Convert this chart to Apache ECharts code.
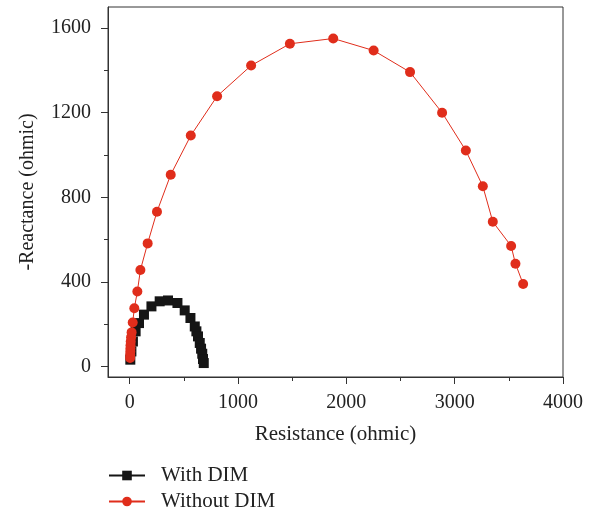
<!DOCTYPE html>
<html><head><meta charset="utf-8">
<script src="https://cdn.jsdelivr.net/npm/echarts@6/dist/echarts.min.js"></script>
<style>html,body{margin:0;padding:0;background:#fff}#c{width:593px;height:513px}</style>
</head><body><div id="c"></div>
<script>
const withDimX = [6,16,30,55,86,132,201,277,354,441,508,561,601,616,631,647,659,670,677,684];
const withDimY = [32,71,118,166,205,245,284,308,312,300,265,229,189,166,142,111,84,60,35,16];
const withoutDimX = [4,5,6,7,8,10,13,18,28,43,71,99,166,252,379,564,807,1121,1479,1879,2252,2588,2884,3103,3260,3352,3521,3561,3632];
const withoutDimY = [40,55,70,85,100,118,138,161,208,275,354,456,582,732,907,1092,1278,1423,1526,1551,1494,1392,1200,1021,852,684,570,486,390];
const xMajor = [0,1000,2000,3000,4000];
const xMinor = [500,1500,2500,3500];
const yMajor = [0,400,800,1200,1600];
const yMinor = [200,600,1000,1400];

const font = 'Liberation Serif';
const axisCol = '#333';
const txtCol = '#222';
const chart = echarts.init(document.getElementById('c'));
const pairs = (xs, ys) => xs.map((v,i)=>[v, ys[i]]);
const fmt = v => String(v);
const baseX = {type:'value', min:-200, max:4000, gridIndex:0, position:'bottom'};
const baseY = {type:'value', min:-50, max:1700, gridIndex:0, position:'left'};
chart.setOption({
  animation:false,
  grid:{left:108, right:30, top:7, bottom:136, show:true, borderColor:axisCol, borderWidth:1},
  xAxis:[
    Object.assign({}, baseX, {
      name:'Resistance (ohmic)', nameLocation:'middle', nameGap:47,
      nameTextStyle:{fontFamily:font, fontSize:21, color:txtCol},
      axisLine:{show:true, onZero:false, lineStyle:{color:axisCol}},
      axisTick:{show:true, inside:false, length:7, customValues:xMajor, lineStyle:{color:axisCol}},
      axisLabel:{show:true, customValues:xMajor, formatter:fmt, margin:16, fontFamily:font, fontSize:20, color:txtCol},
      splitLine:{show:false}
    }),
    Object.assign({}, baseX, {
      axisLine:{show:false, onZero:false},
      axisTick:{show:true, length:4, customValues:xMinor, lineStyle:{color:axisCol}},
      axisLabel:{show:false}, splitLine:{show:false}
    })
  ],
  yAxis:[
    Object.assign({}, baseY, {
      name:'-Reactance (ohmic)', nameLocation:'middle', nameGap:70,
      nameTextStyle:{fontFamily:font, fontSize:20, color:txtCol},
      axisLine:{show:true, onZero:false, lineStyle:{color:axisCol}},
      axisTick:{show:true, length:7, customValues:yMajor, lineStyle:{color:axisCol}},
      axisLabel:{show:true, customValues:yMajor, formatter:fmt, margin:17, fontFamily:font, fontSize:20, color:txtCol},
      splitLine:{show:false}
    }),
    Object.assign({}, baseY, {
      axisLine:{show:false, onZero:false},
      axisTick:{show:true, length:4, customValues:yMinor, lineStyle:{color:axisCol}},
      axisLabel:{show:false}, splitLine:{show:false}
    })
  ],
  legend:[
    {left:103, top:460, itemWidth:36, itemHeight:12,
     textStyle:{fontFamily:font, fontSize:21, color:txtCol, padding:[0,0,0,11]},
     data:['With DIM']},
    {left:103, top:486, itemWidth:36, itemHeight:12,
     textStyle:{fontFamily:font, fontSize:21, color:txtCol, padding:[0,0,0,11]},
     data:['Without DIM']}
  ],
  series:[
    {name:'With DIM', type:'line', data:pairs(withDimX, withDimY), symbol:'rect', symbolSize:10,
     itemStyle:{color:'#151515'}, lineStyle:{color:'#151515', width:1}, z:2},
    {name:'Without DIM', type:'line', data:pairs(withoutDimX, withoutDimY), symbol:'circle', symbolSize:10,
     itemStyle:{color:'#e02d1b'}, lineStyle:{color:'#e02d1b', width:1}, z:3}
  ]
});
</script></body></html>
